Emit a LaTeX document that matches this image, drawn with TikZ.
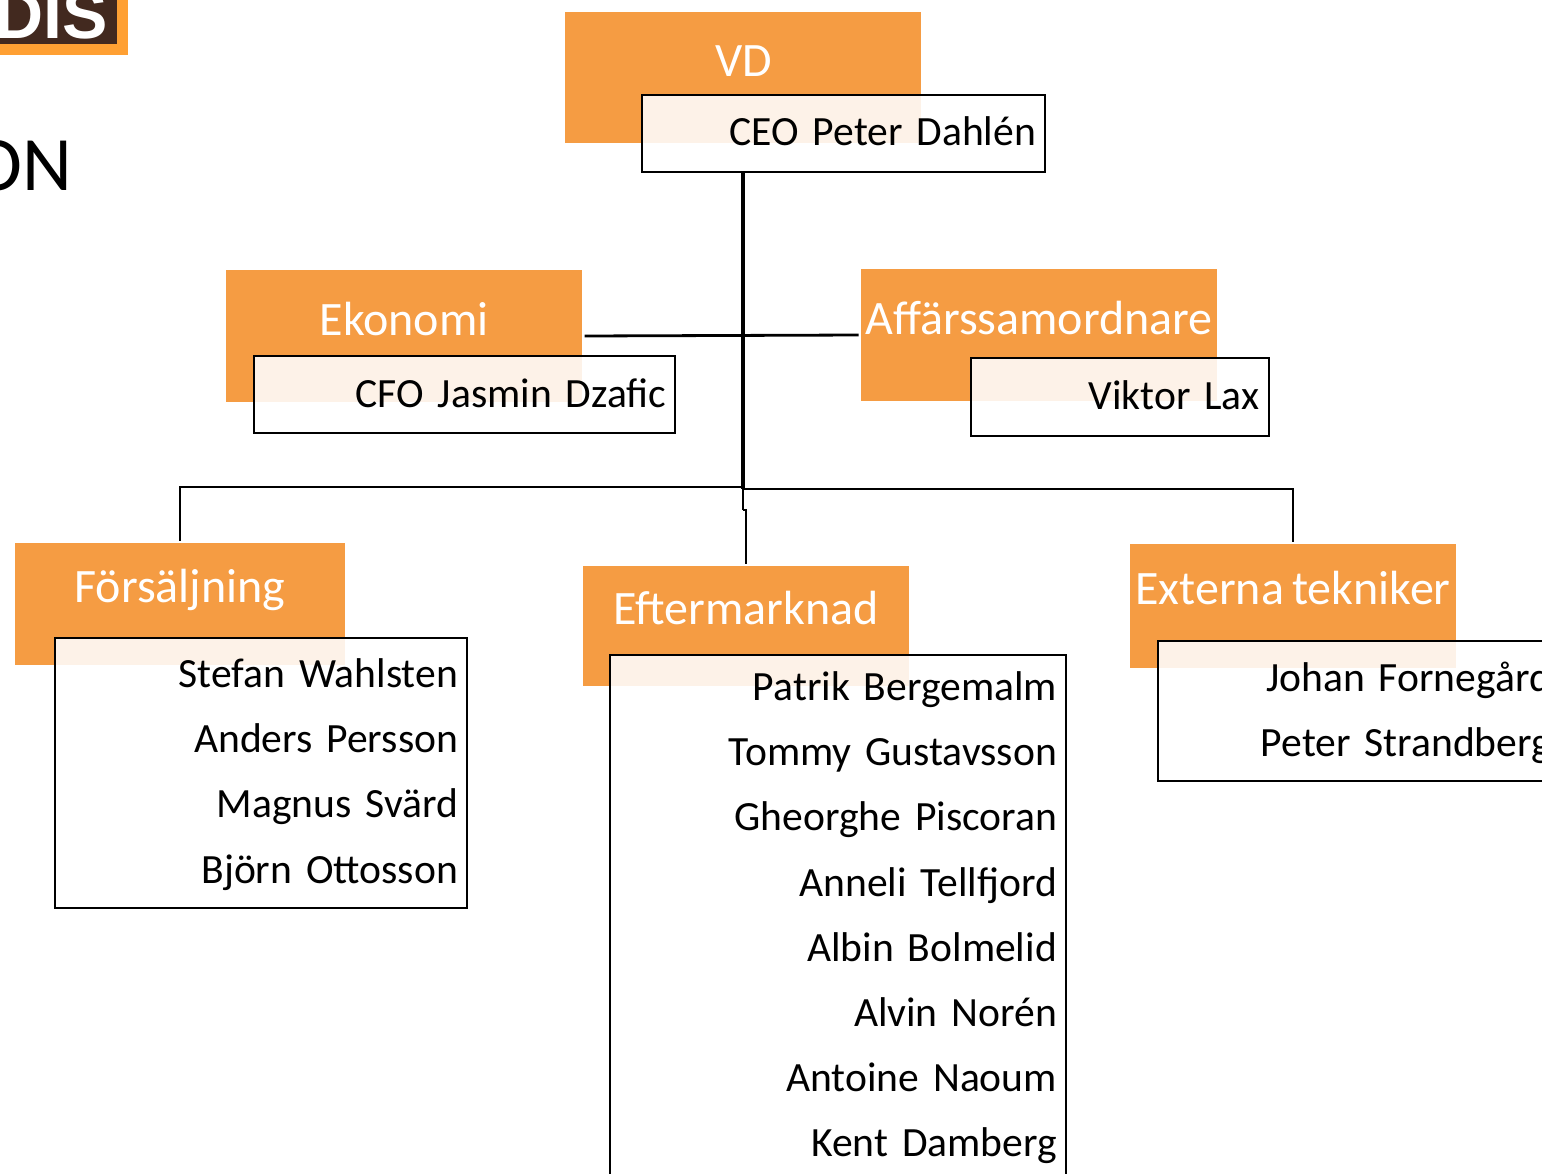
\documentclass[tikz,border=0pt]{standalone}
\usepackage{fontspec}
\setmainfont[WordSpace=0.75]{Carlito}
\newfontfamily\logofont{Liberation Sans}
\usetikzlibrary{positioning}
\definecolor{titleorange}{HTML}{F59C43}
\definecolor{logoorange}{HTML}{FFA033}
\definecolor{logobrown}{HTML}{42291F}

\begin{document}
\begin{tikzpicture}[x=0.5pt,y=-0.5pt]
    \tikzset{Title/.style={%
        shape=rectangle,%
        fill=titleorange,%
        inner sep=0pt,%
        outer sep=1.25pt,%
    }}
    \tikzset{TitleText/.style={%
        text=white,%
        font=\fontsize{24}{28}\selectfont,%
        inner sep=0pt,%
        anchor=base,%
    }}
    \tikzset{NameBox/.style={%
        shape=rectangle,%
        draw=black,%
        line width=1.4pt,%
        fill=white,%
        fill opacity=.88,%
        draw opacity=1,%
        inner sep=0pt,%
    }}
    \tikzset{NameLine/.style={%
        font=\fontsize{20.8}{24}\selectfont,%
        text width=170pt,%
        align=right,%
        text height=14pt,%
        text depth=4pt,%
        inner sep=0pt,%
        node distance=32.6pt,%
    }}
    \tikzset{Link/.style={line width=1.4pt}}
    \useasboundingbox (0,0) rectangle (1542,1173);

    % logo
    \fill[logoorange] (-10,-10) rectangle (128,55);
    \fill[logobrown] (-10,-10) rectangle (117,44);
    \node[text=white, font=\logofont\fontsize{34}{34}\bfseries\selectfont, inner sep=0pt, anchor=base east] (logo) at (108,38) {DIS};
    \node[font=\fontsize{38.5}{40}\selectfont, inner sep=0pt, anchor=base east] (heading) at (73,190) {ON};

    \node[Title, minimum width=178pt, minimum height=65.5pt] (vd) at (743,77.5) {};
    \node[Title, minimum width=178pt, minimum height=66pt] (ekonomi) at (404,336) {};
    \node[Title, minimum width=178pt, minimum height=66pt] (affar) at (1039,335) {};
    \node[Title, minimum width=165pt, minimum height=61pt] (forsaljning) at (180,604) {};
    \node[Title, minimum width=163pt, minimum height=60pt] (eftermarknad) at (746,626) {};
    \node[Title, minimum width=163pt, minimum height=62pt] (externa) at (1293,606) {};

    \node[TitleText] (vdtext) at (744,76.5) {VD};
    \node[TitleText] (ekonomitext) at (404,335.5) {Ekonomi};
    \node[TitleText] (affartext) at (1039,334.5) {Affärssamordnare};
    \node[TitleText] (forsaljningtext) at (180,602.5) {Försäljning};
    \node[TitleText] (eftermarknadtext) at (746,624.5) {Eftermarknad};
    \node[TitleText] (externatext) at (1293,604.5) {Externa tekniker};

    \node[NameBox, minimum width=201.5pt, minimum height=38.5pt] (ceo) at (843.5,133.5) {};
    \node[NameBox, minimum width=210.5pt, minimum height=38.5pt] (cfo) at (464.5,394.5) {};
    \node[NameBox, minimum width=149pt, minimum height=39pt] (viktor) at (1120,397) {};
    \node[NameBox, minimum width=206pt, minimum height=135pt] (saljlista) at (261,773) {};
    \node[NameBox, minimum width=228pt, minimum height=285pt] (efterlista) at (838,940) {};
    \node[NameBox, minimum width=230pt, minimum height=70pt] (externlista) at (1388,711) {};

    \node[NameLine] (n0) at (866,135.5) {CEO Peter Dahlén};
    \node[NameLine] (n1) at (496.5,397.5) {CFO Jasmin Dzafic};
    \node[NameLine] (n2) at (1089.5,399.5) {Viktor Lax};

    \node[NameLine] (s0) at (288,677.5) {Stefan Wahlsten};
    \node[NameLine, below of=s0] (s1) {Anders Persson};
    \node[NameLine, below of=s1] (s2) {Magnus Svärd};
    \node[NameLine, below of=s2] (s3) {Björn Ottosson};

    \node[NameLine] (e0) at (887,690.5) {Patrik Bergemalm};
    \node[NameLine, below of=e0] (e1) {Tommy Gustavsson};
    \node[NameLine, below of=e1] (e2) {Gheorghe Piscoran};
    \node[NameLine, below of=e2] (e3) {Anneli Tellfjord};
    \node[NameLine, below of=e3] (e4) {Albin Bolmelid};
    \node[NameLine, below of=e4] (e5) {Alvin Norén};
    \node[NameLine, below of=e5] (e6) {Antoine Naoum};
    \node[NameLine, below of=e6] (e7) {Kent Damberg};

    \node[NameLine] (x0) at (1381,681.5) {Johan Fornegård};
    \node[NameLine, below of=x0] (x1) {Peter Strandberg};

    \coordinate (leftjoint) at (743,487);
    \coordinate (rightjoint) at (743,489);
    \coordinate (jog) at (743,510);

    \draw[Link, line width=1.6pt] (ceo.south -| vd.south) -- (rightjoint);
    \draw[Link] (rightjoint) -- (jog);
    \draw[Link] (ekonomi.east) -- (affar.west);
    \draw[Link] (forsaljning.north) |- (leftjoint);
    \draw[Link] (externa.north) |- (rightjoint);
    \draw[Link] (eftermarknad.north) |- (jog);
\end{tikzpicture}
\end{document}
